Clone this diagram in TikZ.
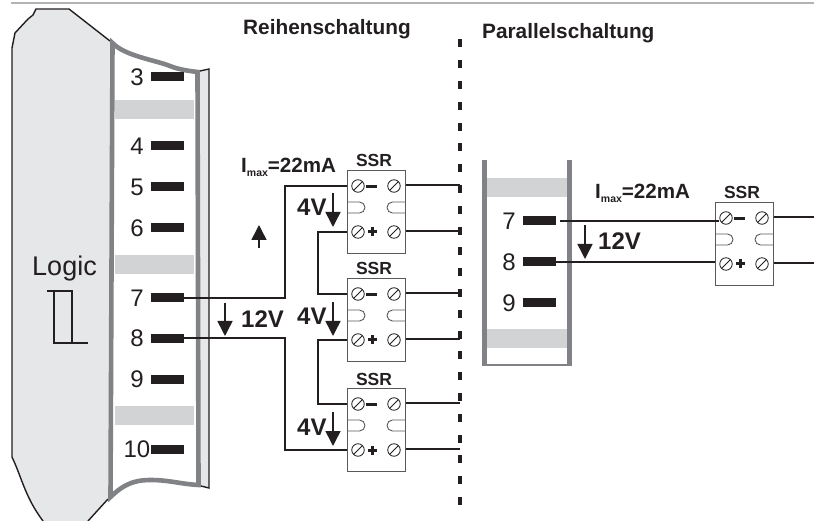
\documentclass[tikz,border=0pt]{standalone}
\usepackage{fontspec}
\setmainfont{Liberation Sans}
\usepackage{xcolor}
\usetikzlibrary{positioning,arrows.meta}
\definecolor{inkdark}{HTML}{231F20}
\definecolor{bodygray}{HTML}{E6E7E8}
\definecolor{bandgray}{HTML}{D1D3D4}
\definecolor{railgray}{HTML}{808285}
\definecolor{framegray}{HTML}{58595B}
\newcommand{\fs}[1]{\fontsize{#1}{#1}\selectfont}
\newcommand{\ssrbox}[3]{%
    \node[ssrframe] (#1) at (#2,#3) {};
    \node[ssrtitle] (#1-t) at (#2+27,#3-3) {SSR};
    \node[screw] (#1-a) at (#2+11,#3+16) {};
    \node[screw] (#1-b) at (#2+47,#3+16) {};
    \node[screw] (#1-c) at (#2+11,#3+62) {};
    \node[screw] (#1-d) at (#2+47,#3+62) {};
    \fill[inkdark] (#2+19,#3+14.7) rectangle (#2+30,#3+17.7);
    \fill[inkdark] (#2+20.5,#3+60.5) rectangle (#2+29.5,#3+63.5);
    \fill[inkdark] (#2+23.5,#3+57.5) rectangle (#2+26.5,#3+66.5);
    \draw[framegray,line width=0.9pt] (#2,#3+32) -- (#2+12.5,#3+32) arc[start angle=-90,end angle=90,radius=5.5] -- (#2,#3+43);
    \draw[framegray,line width=0.9pt] (#2+58,#3+32) -- (#2+45.5,#3+32) arc[start angle=-90,end angle=-270,radius=5.5] -- (#2+58,#3+43);
    \coordinate (#1-m) at (#2,#3+16);
    \coordinate (#1-p) at (#2,#3+62);
    \coordinate (#1-mr) at (#2+59,#3+15);
    \coordinate (#1-pr) at (#2+59,#3+61);
}
\begin{document}
\begin{tikzpicture}[x=1pt,y=-1pt,
    pinbar/.style={fill=inkdark,inner sep=0pt,minimum width=33pt,minimum height=9pt},
    pinnum/.style={inner sep=0pt,text=inkdark,font=\fs{24}},
    band/.style={fill=bandgray},
    rail/.style={draw=railgray,line width=5pt},
    wire/.style={draw=inkdark,line width=2pt},
    outline/.style={draw=inkdark,line width=1.4pt},
    volt/.style={draw=inkdark,line width=1.5pt,-{Triangle[length=15pt,width=15pt]}},
    boldlabel/.style={anchor=base west,inner sep=0pt,text=inkdark,font=\fs{24}\bfseries},
    title/.style={anchor=base west,inner sep=0pt,text=inkdark,font=\fs{20.8}\bfseries},
    currentlabel/.style={anchor=base west,inner sep=0pt,text=inkdark,font=\fs{20.6}\bfseries},
    ssrframe/.style={draw=framegray,fill=white,line width=0.9pt,anchor=north west,inner sep=0pt,minimum width=58pt,minimum height=83pt},
    ssrtitle/.style={anchor=base,inner sep=0pt,text=inkdark,font=\fs{17.5}\bfseries},
    screw/.style={circle,draw=inkdark,line width=0.8pt,inner sep=0pt,minimum size=12.5pt,
        path picture={\draw[inkdark,line width=0.8pt] (path picture bounding box.south west) -- (path picture bounding box.north east);}}]
    \useasboundingbox (0,0) rectangle (814,521);
    \draw[bandgray!85!black,line width=1.4pt] (11,3) -- (814,3);

    % housing on the left
    \fill[bodygray] (12,457) -- (12,48) -- (15,33) -- (28,19) -- (33,15) -- (36,9) -- (69,9) -- (110,41)
        .. controls (125,56) and (155,60) .. (170,66) .. controls (180,70) and (190,71) .. (198,71)
        -- (209,69) -- (209,488) -- (201,486)
        .. controls (180,484) and (170,480) .. (150,480) .. controls (130,480) and (120,488) .. (108,499)
        -- (88,521) -- (43,521) .. controls (25,497) and (22,478) .. (12,457) -- cycle;
    \draw[outline] (43,521) .. controls (25,497) and (22,478) .. (12,457) -- (12,48) -- (15,33) -- (28,19)
        -- (33,15) -- (36,9) -- (69,9) -- (110,41);
    \draw[outline] (88,521) -- (108,499);
    \draw[outline] (200,71) -- (209,69) -- (209,488) -- (201,486);
    \filldraw[fill=white,rail,line width=4.6pt] (112.5,43) .. controls (125,56) and (155,60) .. (170,66)
        .. controls (180,70) and (190,71) .. (197.5,72) -- (198.5,485)
        .. controls (180,484) and (170,480) .. (150,480) .. controls (130,480) and (120,488) .. (110.5,497) -- cycle;
    \fill[band] (115,100) rectangle (194,119);
    \fill[band] (115,255) rectangle (194,274);
    \fill[band] (115,406) rectangle (194,425);
    \foreach \n/\y in {3/77,4/146,5/187,6/228,7/298,8/338.5,9/379} {
        \node[pinbar] (pin\n) at (167.5,\y) {};
        \node[pinnum] (num\n) at (137,\y) {\n};
    }
    \node[pinbar] (pin10) at (167.5,449.5) {};
    \node[pinnum] (num10) at (137,449.5) {10};

    \node[inner sep=0pt,anchor=base,text=inkdark,font=\fs{27}] (logic) at (64.5,276) {Logic};
    \draw[inkdark,line width=1.2pt] (47,291) -- (72,291) -- (72,343);
    \draw[inkdark,line width=1.2pt] (54,291) -- (54,343) -- (88,343);

    % titles and separator
    \node[title] (serial) at (243,35) {Reihenschaltung};
    \node[title] (parallel) at (482,39) {Parallelschaltung};
    \draw[inkdark,line width=4pt,dash pattern=on 8pt off 12.8pt] (460,39.4) -- (460,505);
    \coordinate (sepline) at (460,0);

    % series branch
    \ssrbox{ssra}{347}{170}
    \ssrbox{ssrb}{347}{278}
    \ssrbox{ssrc}{347}{388}
    \coordinate (bus) at (285,0);
    \coordinate (link) at (318,0);
    \draw[wire] (pin7.east) -| (bus |- ssra-m) -- (ssra-m);
    \draw[wire] (pin8.east) -| (bus |- ssrc-p) -- (ssrc-p);
    \draw[wire] (ssra-p) -| (link |- ssrb-m) -- (ssrb-m);
    \draw[wire] (ssrb-p) -| (link |- ssrc-m) -- (ssrc-m);
    \foreach \s in {ssra,ssrb,ssrc} {
        \draw[wire] (\s-mr) -- (\s-mr -| sepline);
        \draw[wire] (\s-pr) -- (\s-pr -| sepline);
    }
    \draw[volt] (333,193) -- (333,227);
    \draw[volt] (333,302) -- (333,336);
    \draw[volt] (333,412) -- (333,446);
    \node[boldlabel] (va) at (297,216) {4V};
    \node[boldlabel] (vb) at (297,325) {4V};
    \node[boldlabel] (vc) at (297,435) {4V};
    \draw[volt] (225,303) -- (225,336);
    \node[boldlabel] (vtotal) at (241,327) {12V};
    \draw[volt] (259,248) -- (259,225);
    \node[currentlabel] (imaxa) at (241,173) {I\raisebox{-3.5pt}{\fs{10.5}max}=22mA};

    % parallel branch
    \draw[rail] (484.5,160) -- (484.5,364);
    \draw[rail] (569.5,160) -- (569.5,364);
    \draw[railgray,line width=1.2pt] (482,365) -- (572,365);
    \fill[band] (487,178) rectangle (567,197);
    \fill[band] (487,329) rectangle (567,348);
    \foreach \n/\y in {7/221,8/262,9/303} {
        \node[pinbar] (pinr\n) at (539.5,\y) {};
        \node[pinnum] (numr\n) at (509,\y) {\n};
    }
    \ssrbox{ssrd}{715}{202}
    \coordinate (startseven) at (560,221);
    \draw[wire] (startseven) -- (ssrd-a.west |- startseven);
    \draw[wire] (pinr8.east) -- (pinr8.east -| ssrd-p);
    \coordinate (rightedge) at (814,0);
    \draw[wire] (ssrd-mr) -- (ssrd-mr -| rightedge);
    \draw[wire] (ssrd-pr) -- (ssrd-pr -| rightedge);
    \draw[volt] (585,225) -- (585,259);
    \node[boldlabel] (vpar) at (598,250) {12V};
    \node[currentlabel] (imaxb) at (595,199) {I\raisebox{-3.5pt}{\fs{10.5}max}=22mA};
\end{tikzpicture}
\end{document}
